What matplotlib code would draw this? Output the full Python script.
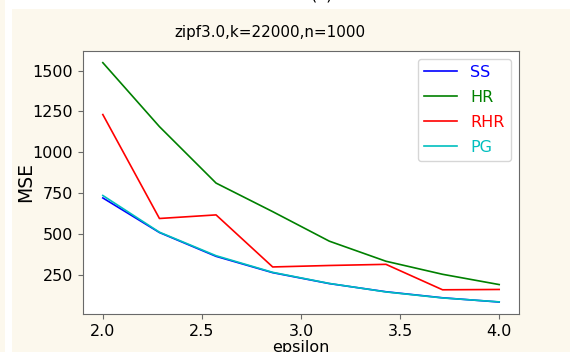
import numpy as np
import matplotlib
matplotlib.use("Agg")
import matplotlib.pyplot as plt
from matplotlib.patches import Rectangle

# Data
epsilon = [2.0, 2.2857, 2.5714, 2.8571, 3.1429, 3.4286, 3.7143, 4.0]
ss = [720, 508, 362, 262, 195, 145, 108, 82]
hr = [1549, 1157, 811, 636, 455, 332, 252, 189]
rhr = [1231, 594, 616, 297, 306, 313, 157, 159]
pg = [735, 510, 366, 264, 196, 144, 107, 83]
series_names = ["SS", "HR", "RHR", "PG"]
series_colors = ["blue", "green", "red", "c"]
title = "zipf3.0,k=22000,n=1000"

cream = "#fcf8ed"
fs = 11.5

fig = plt.figure(figsize=(5.70, 3.52), dpi=100, facecolor=cream)
# white screenshot strips
fig.patches.append(Rectangle((5 / 570, 0), 7 / 570, 1, transform=fig.transFigure,
                             facecolor="white", edgecolor="none", zorder=0))
fig.patches.append(Rectangle((12 / 570, 1 - 9 / 352), 1, 9 / 352, transform=fig.transFigure,
                             facecolor="white", edgecolor="none", zorder=0))
fig.text(322 / 570, 1.0 + 0.5 / 352, "(a)", ha="center", va="baseline", fontsize=fs)

ax = fig.add_axes([83 / 570, 1 - 314 / 352, (519 - 83) / 570, (314 - 50.7) / 352])
ax.set_facecolor("white")

for vals, name, col in zip([ss, hr, rhr, pg], series_names, series_colors):
    ax.plot(epsilon, vals, color=col, linewidth=1.2, label=name)

fig.text(270 / 570, 1 - 33 / 352, title, ha="center", va="center", fontsize=10.9)
ax.set_xlabel("epsilon", fontsize=fs, labelpad=1)
ax.set_ylabel("MSE", fontsize=13.5, labelpad=-1.5)
ax.set_xticks([2.0, 2.5, 3.0, 3.5, 4.0])
ax.set_yticks([250, 500, 750, 1000, 1250, 1500])
ax.tick_params(labelsize=fs, color="dimgray")
for s in ax.spines.values():
    s.set_color("dimgray")

leg = ax.legend(fontsize=fs, loc="upper right", labelcolor="linecolor",
                labelspacing=0.62, handlelength=2.1)

fig.savefig("out.png", dpi=100, facecolor=cream)
